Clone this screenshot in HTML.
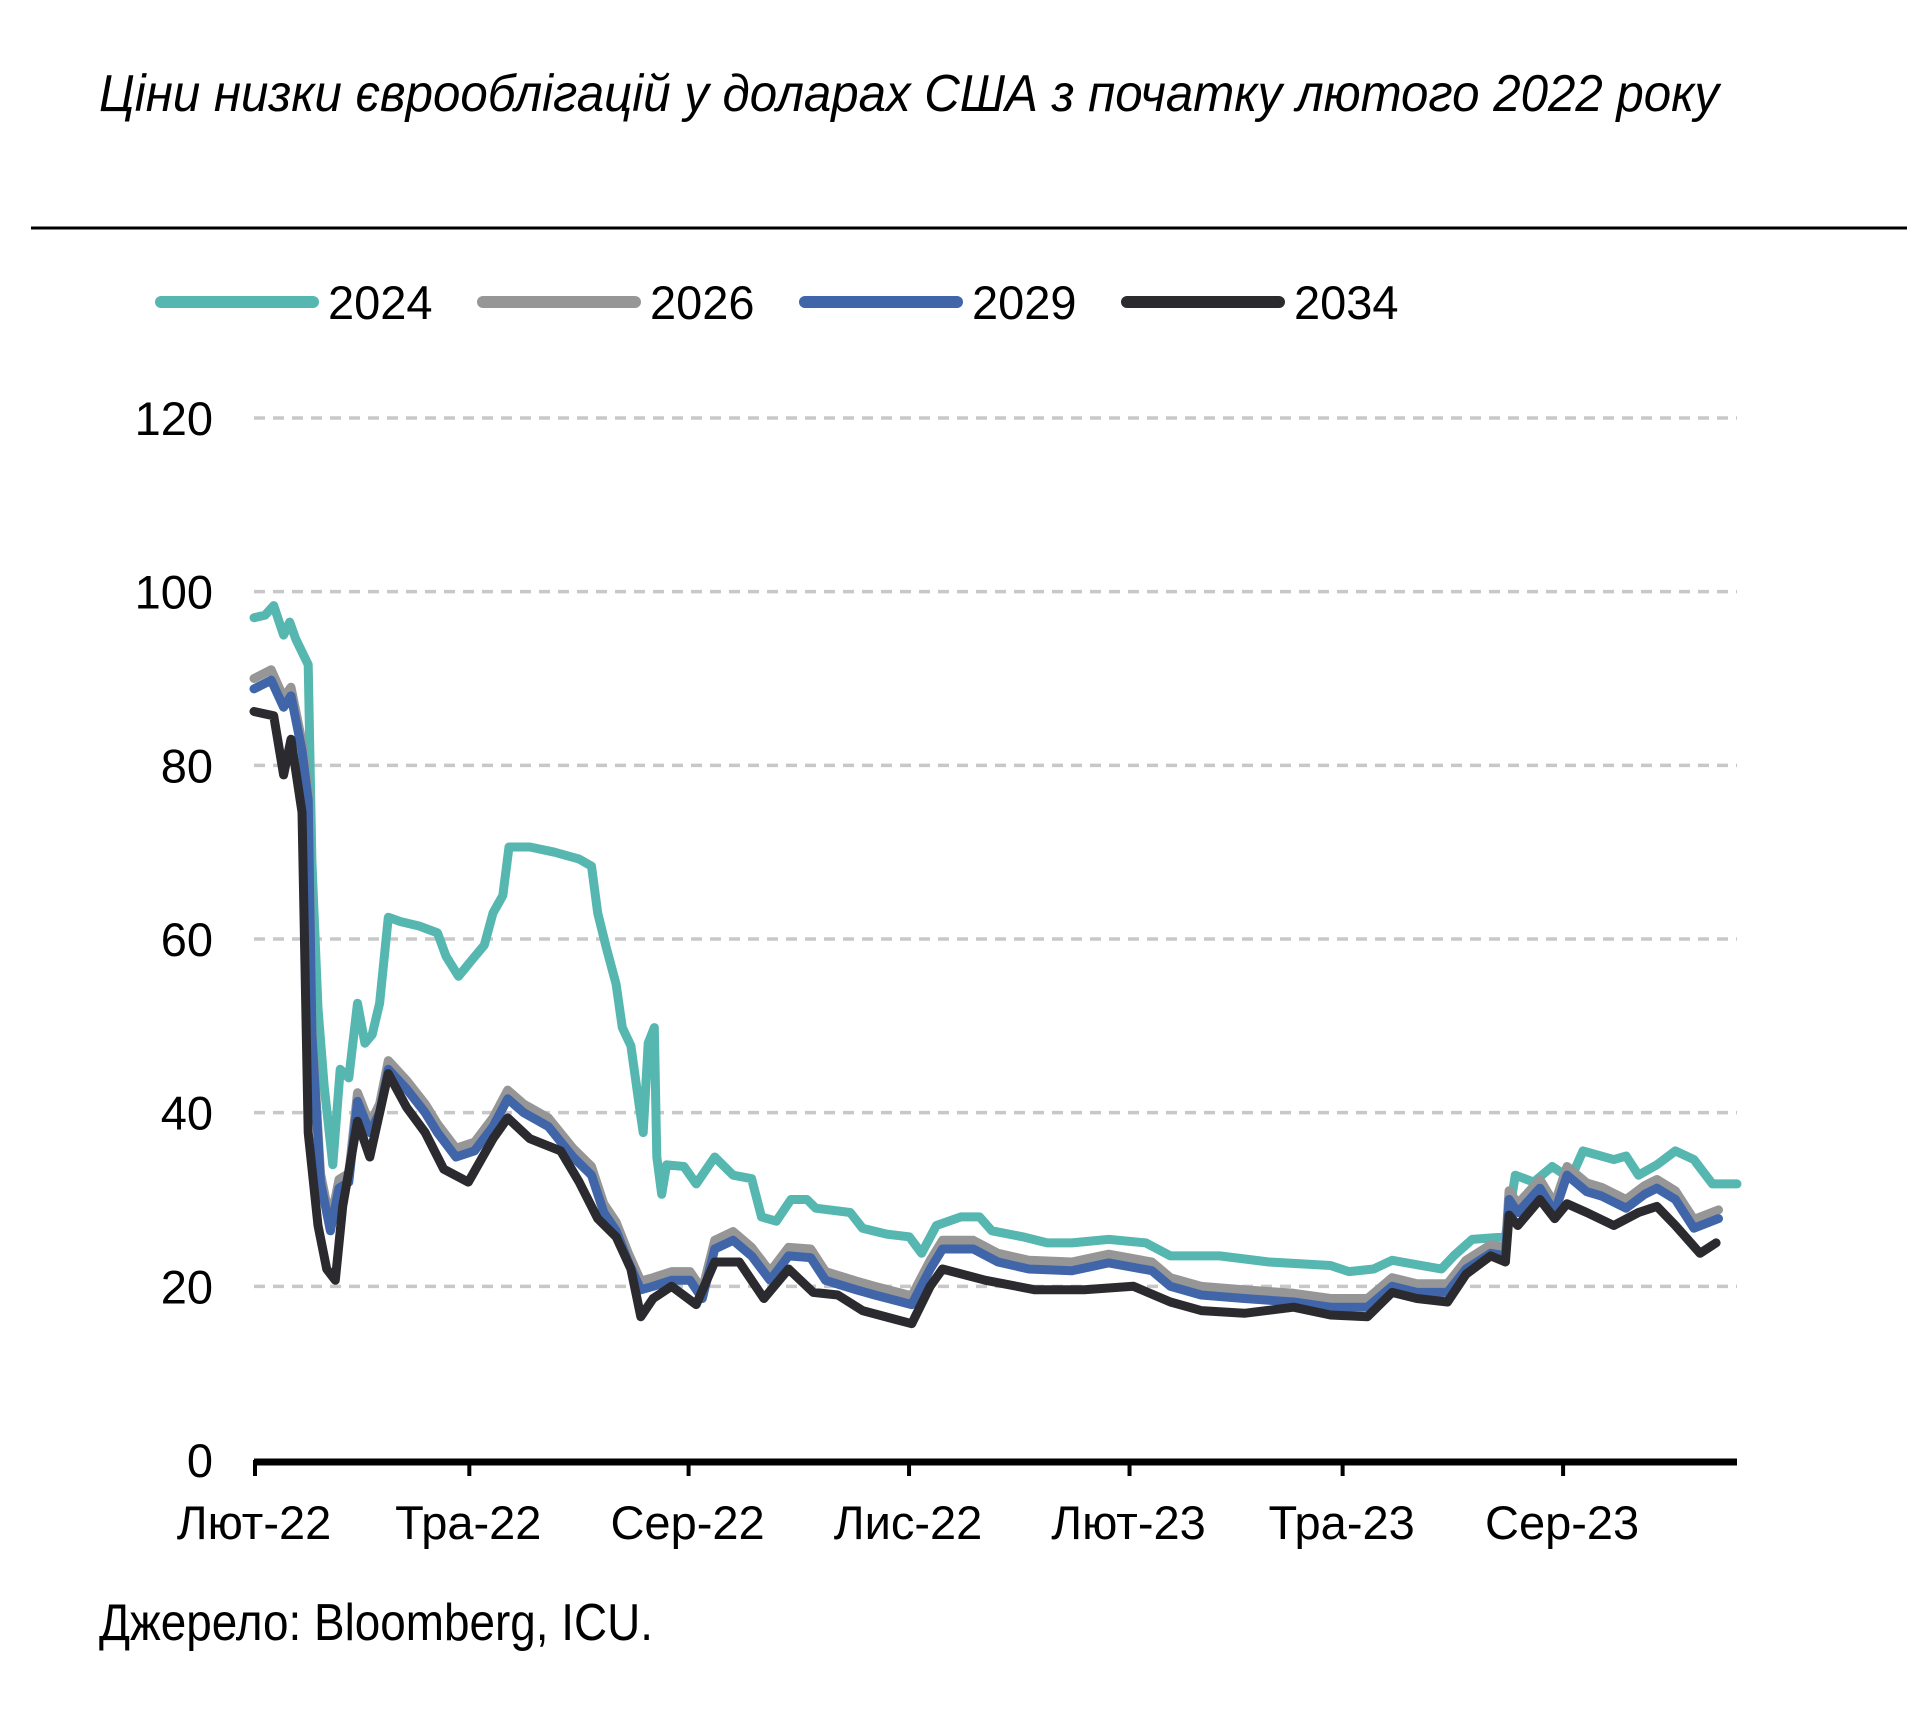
<!DOCTYPE html>
<html><head><meta charset="utf-8"><style>
html,body{margin:0;padding:0;background:#fff;}
svg text{font-family:"Liberation Sans Narrow","Liberation Sans",sans-serif;fill:#000;}
</style></head><body>
<svg id="chart" width="1930" height="1706" viewBox="0 0 1930 1706" xmlns="http://www.w3.org/2000/svg">
<text x="99" y="111" font-size="52" font-style="italic" textLength="1620" lengthAdjust="spacingAndGlyphs">Ціни низки єврооблігацій у доларах США з початку лютого 2022 року</text>
<line x1="31" y1="228" x2="1907" y2="228" stroke="#000" stroke-width="3"/>
<g id="grid"></g><g id="axes"></g><g id="series"></g><g id="legend"></g>
<text x="99" y="1640" font-size="52" textLength="554" lengthAdjust="spacingAndGlyphs">Джерело: Bloomberg, ICU.</text>
</svg>
<script>
const yTicks=[0,20,40,60,80,100,120];
const xTickPos=[0,174,352,531,710,883,1062];
const xTickLabels=["Лют-22","Тра-22","Сер-22","Лис-22","Лют-23","Тра-23","Сер-23"];
const seriesNames=["2024","2026","2029","2034"];
const seriesColors=["#55b7b0","#969696","#4065a8","#2b2a2e"];
const t2024=[0,9,16,24,29,34,44,47,52,57,64,70,77,84,90,96,102,109,119,134,149,156,166,177,187,194,202,207,224,244,264,274,279,286,294,299,306,313,316,320,325,327,331,335,349,359,374,389,404,412,424,436,449,456,484,494,514,532,542,554,574,589,599,624,644,664,694,724,744,784,824,874,889,909,924,964,974,989,1016,1024,1039,1054,1069,1079,1104,1114,1124,1139,1154,1169,1184,1204];
const v2024=[97,97.3,98.4,95,96.5,94.5,91.6,69,52,43,34,45,44,52.6,48,49,52.6,62.5,62,61.5,60.7,58,55.7,57.6,59.3,63,65,70.6,70.6,70,69.2,68.4,63,59,54.8,49.8,47.7,40.6,37.7,48,49.8,34.9,30.6,34,33.8,31.8,34.9,32.8,32.4,28,27.5,30,30,29,28.5,26.7,26,25.7,23.8,27,28,28,26.4,25.7,25,25,25.4,25,23.5,23.5,22.8,22.4,21.7,22,23,22,23.5,25.4,25.7,32.8,32,33.8,32.4,35.6,34.6,35,32.8,34,35.6,34.6,31.8,31.8];
const tMid=[0,14,24,30,39,44,47,54,62,69,77,84,94,102,109,124,139,149,164,179,194,206,219,239,259,274,284,294,304,314,324,339,354,364,374,389,404,419,434,452,464,489,504,534,549,559,584,604,629,664,694,729,744,769,804,844,874,904,924,944,969,984,1004,1016,1019,1026,1044,1056,1066,1082,1094,1114,1129,1139,1154,1169,1189,1204];
const v2026=[90,91,87.8,89,82.7,77,50,33,27.4,32.3,33,42.3,38.7,41,46,43.7,41,38.7,35.9,36.6,39.4,42.6,41,39.4,35.9,33.8,29.5,27.4,23.8,20.6,21,21.7,21.7,19.6,25.3,26.3,24.5,21.7,24.5,24.3,21.7,20.6,20,18.9,23,25.3,25.3,23.8,23,22.8,23.7,22.8,21,20,19.6,19.2,18.6,18.6,21,20.3,20.3,23,24.8,24.5,31,29.5,32.3,29.5,33.8,31.9,31.4,30,31.6,32.3,31,27.7,28.8];
const v2029=[88.8,89.8,86.7,88,81.7,76,49,32,26.4,31.3,32,41.3,37.7,40,45,42.7,40,37.7,34.9,35.6,38.4,41.6,40,38.4,34.9,32.8,28.5,26.4,22.8,19.6,20,20.7,20.7,18.6,24.3,25.3,23.5,20.7,23.5,23.3,20.7,19.6,19,17.9,22,24.3,24.3,22.8,22,21.8,22.7,21.8,20,19,18.6,18.2,17.6,17.6,20,19.3,19.3,22,23.8,23.5,30,28.5,31.3,28.5,32.8,30.9,30.4,29,30.6,31.3,30,26.7,27.8];
const t2034=[0,16,24,30,39,44,52,59,66,72,84,94,109,124,139,154,174,194,206,224,249,264,279,294,306,314,324,339,359,374,394,414,434,454,474,494,534,549,559,594,634,674,714,744,769,804,844,874,904,924,944,969,984,1004,1016,1019,1026,1044,1056,1066,1082,1104,1124,1139,1154,1174,1187,1204];
const v2034=[86.2,85.7,78.9,83,74.6,37.7,27,22,20.7,29.2,39,34.9,44.5,40.6,37.7,33.5,32,37,39.4,37,35.6,32,27.8,25.7,22,16.5,18.6,20,17.9,22.8,22.8,18.6,22,19.3,19,17.2,15.7,20,22,20.7,19.6,19.6,20,18.2,17.2,16.9,17.6,16.7,16.5,19.3,18.6,18.2,21.4,23.5,22.8,28.2,27,30,27.8,29.5,28.5,27,28.5,29.2,27,23.8,25];
const seriesT=[t2024,tMid,tMid,t2034];
const seriesV=[v2024,v2026,v2029,v2034];

const NS="http://www.w3.org/2000/svg";
const X0=254,X1=1737,TMAX=1204,Y0=1460,YMAX=120,YTOP=418;
const xs=t=>X0+t*(X1-X0)/TMAX;
const ys=v=>Y0-v*(Y0-YTOP)/YMAX;
function mk(tag,attrs,parent){const e=document.createElementNS(NS,tag);for(const k in attrs)e.setAttribute(k,attrs[k]);parent.appendChild(e);return e;}
const grid=document.getElementById('grid'),axes=document.getElementById('axes'),ser=document.getElementById('series'),leg=document.getElementById('legend');
yTicks.forEach(v=>{
  if(v>0){const l=mk('line',{x1:X0,x2:X1,y1:ys(v),y2:ys(v),stroke:'#c8c8c8','stroke-width':3.5,'stroke-dasharray':'11 8'},grid);
  
  }
  const t=mk('text',{x:213,y:ys(v)+17,'font-size':47,'text-anchor':'end'},axes);t.textContent=v;
  
  
});
const ax=mk('line',{x1:X0,x2:X1,y1:Y0+2,y2:Y0+2,stroke:'#000','stroke-width':7},axes);


xTickPos.forEach((p,i)=>{
  const tk=mk('line',{x1:xs(p)+1,x2:xs(p)+1,y1:Y0,y2:Y0+16,stroke:'#000','stroke-width':4},axes);
  
  
  const t=mk('text',{x:xs(p),y:1539,'font-size':47,'text-anchor':'middle'},axes);t.textContent=xTickLabels[i];
  
  
});
seriesNames.forEach((n,i)=>{
  const d=seriesT[i].map((t,j)=>(j?'L':'M')+xs(t).toFixed(1)+' '+ys(seriesV[i][j]).toFixed(1)).join(' ');
  const p=mk('path',{d:d,fill:'none',stroke:seriesColors[i],'stroke-width':9,'stroke-linejoin':'round','stroke-linecap':'round'},ser);
  
  
  const lx=[161,483,805,1127][i];
  const ll=mk('line',{x1:lx,x2:lx+152,y1:302,y2:302,stroke:seriesColors[i],'stroke-width':12,'stroke-linecap':'round'},leg);
  
  
  const lt=mk('text',{x:lx+167,y:319,'font-size':47},leg);lt.textContent=n;
  
  
});
</script>
</body></html>
